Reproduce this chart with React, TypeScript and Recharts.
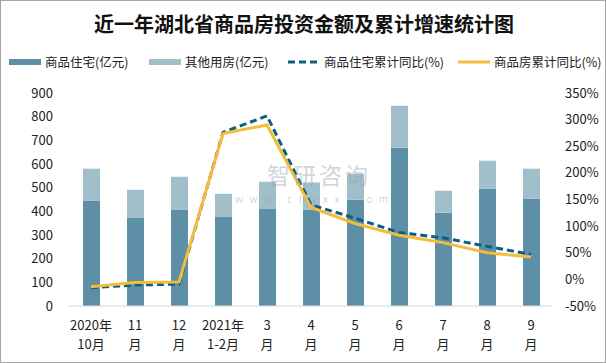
import React from "react";
import { Bar, ComposedChart, Line, XAxis, YAxis } from "recharts";

const categories = ["2020年10月", "2020年11月", "2020年12月", "2021年1-2月", "2021年3月", "2021年4月", "2021年5月", "2021年6月", "2021年7月", "2021年8月", "2021年9月"];
const tickTop = ["2020年", "11", "12", "2021年", "3", "4", "5", "6", "7", "8", "9"];
const tickBottom = ["10月", "月", "月", "1-2月", "月", "月", "月", "月", "月", "月", "月"];

// 亿元
const residential = [444, 374, 406, 378, 410, 406, 449, 669, 394, 495, 453];
const otherUse = [136, 117, 140, 96, 115, 116, 110, 177, 93, 119, 127];
// %
const residentialGrowth = [-15.6, -10.5, -9, 276, 307, 140, 115, 88, 78, 62, 47];
const totalGrowth = [-13.7, -6, -5, 274, 290, 135, 105, 83, 69, 50, 42];

const leftTicks = [0, 100, 200, 300, 400, 500, 600, 700, 800, 900];
const rightTicks = [-50, 0, 50, 100, 150, 200, 250, 300, 350];

const DARK = "#5d8fa7";
const LIGHT = "#a0bfcb";
const NAVY = "#0d5e80";
const GOLD = "#f2bd3c";
const FONT = "'Noto Sans CJK SC', 'DejaVu Sans', sans-serif";

const data = categories.map((c, i) => ({
  name: c,
  residential: residential[i],
  otherUse: otherUse[i],
  residentialGrowth: residentialGrowth[i],
  totalGrowth: totalGrowth[i],
}));

function TwoLineTick(props: any) {
  const { x, y, payload } = props;
  const i = payload.index;
  return (
    <g>
      <text x={x} y={y + 16} textAnchor="middle" fontSize={13} fill="#222" fontFamily={FONT}>
        {tickTop[i]}
      </text>
      <text x={x} y={y + 35} textAnchor="middle" fontSize={13} fill="#222" fontFamily={FONT}>
        {tickBottom[i]}
      </text>
    </g>
  );
}

const legendItems = [
  { label: "商品住宅(亿元)", kind: "bar", color: DARK, x: 8 },
  { label: "其他用房(亿元)", kind: "bar", color: LIGHT, x: 148 },
  { label: "商品住宅累计同比(%)", kind: "dash", color: NAVY, x: 287 },
  { label: "商品房累计同比(%)", kind: "line", color: GOLD, x: 457 },
];

export default function App() {
  return (
    <div
      style={{
        position: "absolute",
        left: 0,
        top: 0,
        width: 606,
        height: 363,
        boxSizing: "border-box",
        border: "1px solid #a6a6a6",
        background: "#fff",
        fontFamily: FONT,
        overflow: "hidden",
      }}
    >
      <div
        style={{
          position: "absolute",
          top: 8,
          left: 0,
          width: 606,
          textAlign: "center",
          fontSize: 20,
          fontWeight: 700,
          color: "#111",
        }}
      >
        近一年湖北省商品房投资金额及累计增速统计图
      </div>
      {legendItems.map((it) => (
        <div
          key={it.label}
          style={{
            position: "absolute",
            top: 53,
            left: it.x,
            display: "flex",
            alignItems: "center",
            whiteSpace: "nowrap",
            fontSize: 12.5,
            lineHeight: "16px",
            color: "#222",
          }}
        >
          <svg width={32} height={10} style={{ marginRight: 4, flexShrink: 0 }}>
            {it.kind === "bar" && <rect x={0} y={2} width={32} height={6} fill={it.color} />}
            {it.kind === "dash" && <line x1={0} y1={5} x2={32} y2={5} stroke={it.color} strokeWidth={3} strokeDasharray="7 4" />}
            {it.kind === "line" && <line x1={0} y1={5} x2={32} y2={5} stroke={it.color} strokeWidth={3} />}
          </svg>
          <span>{it.label}</span>
        </div>
      ))}
      <div style={{ position: "absolute", left: 0, top: 0 }}>
        <ComposedChart width={604} height={361} data={data} margin={{ top: 92, right: 6, left: 8, bottom: 6 }}>
          <XAxis
            dataKey="name"
            height={50}
            interval={0}
            tickLine={false}
            axisLine={{ stroke: "#d9d9d9" }}
            tick={<TwoLineTick />}
          />
          <YAxis
            yAxisId="left"
            width={60}
            domain={[0, 900]}
            ticks={leftTicks}
            tickLine={false}
            axisLine={false}
            tickSize={0}
            tickMargin={16}
            tick={{ fontSize: 13, fill: "#222", fontFamily: FONT }}
          />
          <YAxis
            yAxisId="right"
            orientation="right"
            width={46}
            domain={[-50, 350]}
            ticks={rightTicks}
            tickLine={false}
            axisLine={false}
            tickSize={0}
            tickMargin={12}
            tickFormatter={(v: number) => `${v}%`}
            tick={{ fontSize: 13, fill: "#222", fontFamily: FONT, textAnchor: "start" }}
          />
          <Bar yAxisId="left" dataKey="residential" stackId="a" fill={DARK} barSize={17} isAnimationActive={false} />
          <Bar yAxisId="left" dataKey="otherUse" stackId="a" fill={LIGHT} barSize={17} isAnimationActive={false} />
          <Line
            yAxisId="right"
            type="linear"
            dataKey="residentialGrowth"
            stroke={NAVY}
            strokeWidth={3}
            strokeDasharray="7 4"
            dot={false}
            isAnimationActive={false}
          />
          <Line
            yAxisId="right"
            type="linear"
            dataKey="totalGrowth"
            stroke={GOLD}
            strokeWidth={3}
            dot={false}
            isAnimationActive={false}
          />
        </ComposedChart>
      </div>
      <div style={{ position: "absolute", left: 234, top: 161, color: "rgba(150,160,170,0.45)", pointerEvents: "none" }}>
        <div style={{ fontSize: 23, lineHeight: "25px", letterSpacing: 3, paddingLeft: 32 }}>智研咨询</div>
        <div style={{ fontSize: 10, lineHeight: "11px", letterSpacing: 6.5, marginTop: 6 }}>www.chyxx.com</div>
      </div>
    </div>
  );
}
